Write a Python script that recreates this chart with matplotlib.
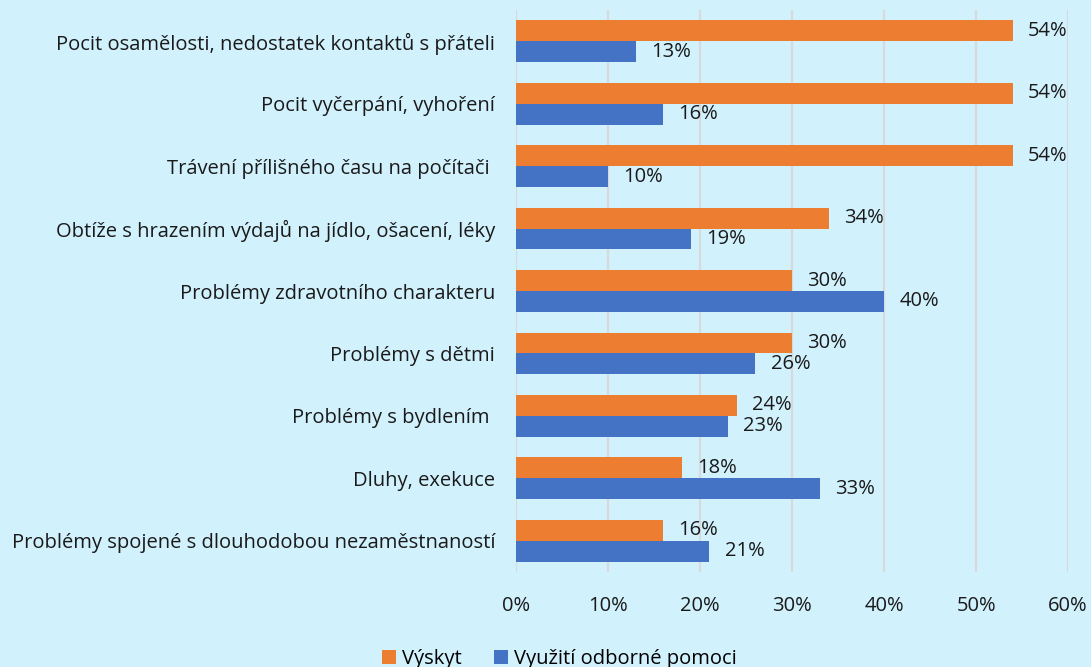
import numpy as np
import matplotlib
matplotlib.use("Agg")
import matplotlib.pyplot as plt

categories = [
    "Pocit osamělosti, nedostatek kontaktů s přáteli",
    "Pocit vyčerpání, vyhoření",
    "Trávení přílišného času na počítači ",
    "Obtíže s hrazením výdajů na jídlo, ošacení, léky",
    "Problémy zdravotního charakteru",
    "Problémy s dětmi",
    "Problémy s bydlením ",
    "Dluhy, exekuce",
    "Problémy spojené s dlouhodobou nezaměstnaností",
]
vyskyt = [54, 54, 54, 34, 30, 30, 24, 18, 16]
pomoc = [13, 16, 10, 19, 40, 26, 23, 33, 21]
xticks = [0, 10, 20, 30, 40, 50, 60]

bg = "#D1F1FD"
orange = "#ED7D31"
blue = "#4472C4"
fs = 14.5

plt.rcParams["font.family"] = ["Open Sans", "DejaVu Sans"]
plt.rcParams["font.size"] = fs

fig = plt.figure(figsize=(10.91, 6.67), dpi=100, facecolor=bg)
ax = fig.add_axes([0.473, 0.1424, 0.506, 0.8426], facecolor=bg)

y = np.arange(len(categories))
h = 0.335
b1 = ax.barh(y - h / 2, vyskyt, height=h, color=orange, label="Výskyt", zorder=3)
b2 = ax.barh(y + h / 2, pomoc, height=h, color=blue, label="Využití odborné pomoci", zorder=3)

# percentage labels just past the end of each bar
for bars, vals in ((b1, vyskyt), (b2, pomoc)):
    for bar, v in zip(bars, vals):
        ax.annotate(f"{v}%", (bar.get_width(), bar.get_y() + bar.get_height() / 2),
                    xytext=(11, 0), textcoords="offset points",
                    ha="left", va="center", fontsize=fs, color="#1a1a1a")

ax.set_xlim(0, 60)
ax.set_ylim(len(categories) - 0.5, -0.5)
ax.set_xticks(xticks)
ax.set_xticklabels([f"{t}%" for t in xticks])
ax.set_yticks(y)
ax.set_yticklabels(categories)
ax.tick_params(axis="both", length=0, colors="#1a1a1a", labelsize=fs)
ax.tick_params(axis="y", pad=15)
ax.tick_params(axis="x", pad=17)
ax.grid(axis="x", color="#D9D9D9", linewidth=1.5, zorder=0)
for s in ax.spines.values():
    s.set_visible(False)

fig.legend(handles=[b1, b2], loc="lower center", bbox_to_anchor=(0.513, -0.03),
           ncol=2, frameon=False, fontsize=fs, handlelength=0.7, handleheight=0.7,
           columnspacing=1.6, handletextpad=0.3)

fig.savefig("out.png", dpi=100, facecolor=bg)
